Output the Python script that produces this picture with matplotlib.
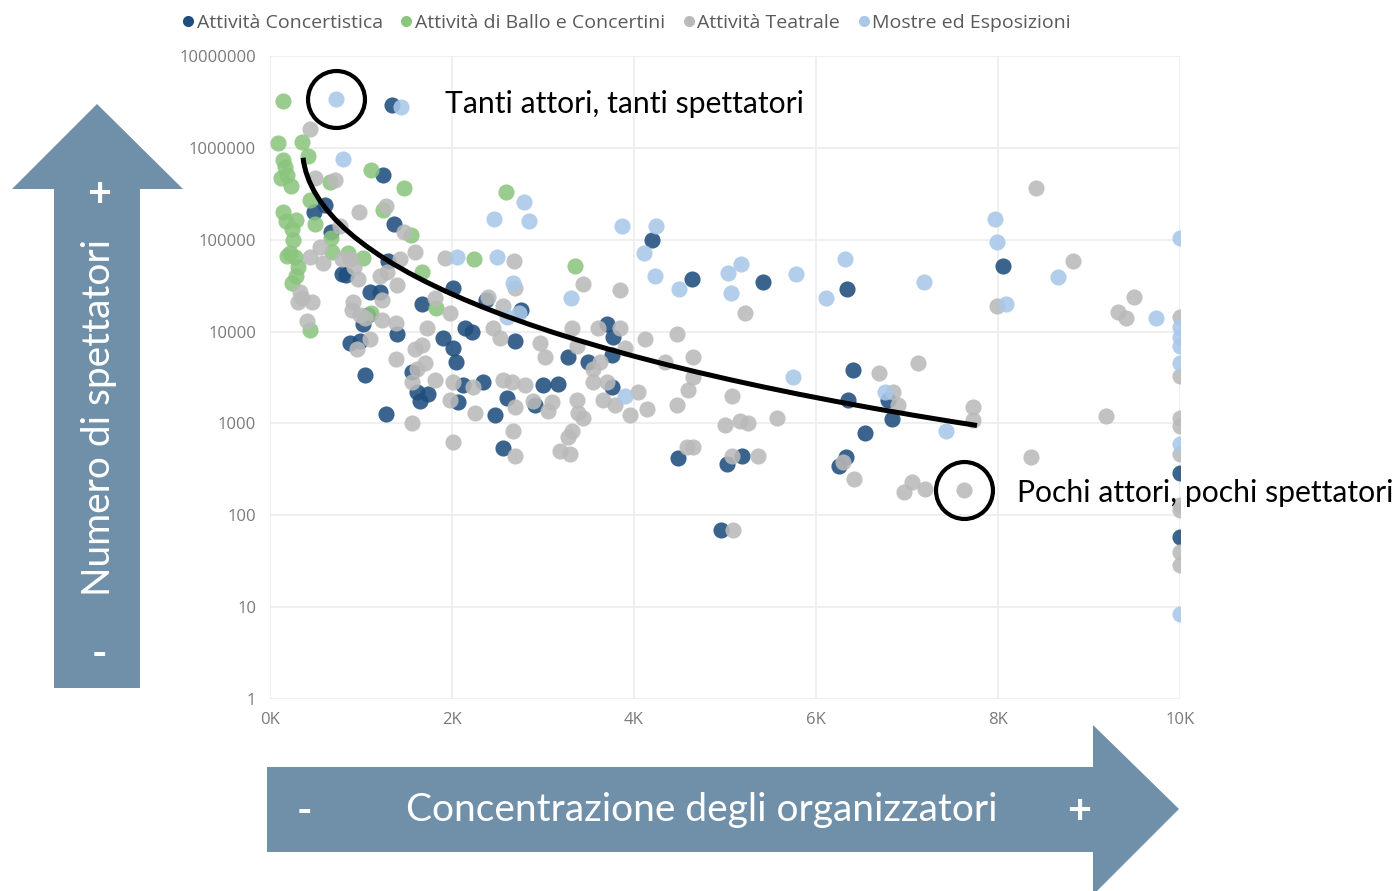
import matplotlib
matplotlib.use("Agg")
import matplotlib.pyplot as plt
from matplotlib.patches import Polygon, PathPatch
from matplotlib.path import Path
from matplotlib.lines import Line2D

# ---------------- data ----------------
categories = ["Attività Concertistica", "Attività di Ballo e Concertini",
              "Attività Teatrale", "Mostre ed Esposizioni"]
colors = ["#1f4e7e", "#8bc57e", "#bababa", "#a9c8e8"]

ballo_x = [143, 88, 352, 143, 418, 165, 187, 121, 231, 1110, 1473, 440, 143, 176, 242,
           286, 253, 495, 670, 1242, 1549, 220, 681, 857, 187, 275, 308, 242, 286, 1022,
           1670, 1824, 1110, 440, 2242, 2593, 3352, 659]
ballo_y = [3.2e6, 1.13e6, 1.16e6, 7.4e5, 8.2e5, 6.2e5, 5.1e5, 4.7e5, 3.8e5, 5.8e5, 3.7e5,
           2.7e5, 2.0e5, 1.6e5, 1.3e5, 1.65e5, 1.0e5, 1.5e5, 1.05e5, 2.1e5, 1.13e5, 7.2e4,
           7.4e4, 7.2e4, 6.7e4, 6.5e4, 5.0e4, 3.4e4, 4.0e4, 6.4e4, 4.4e4, 1.8e4, 1.6e4,
           1.05e4, 6.2e4, 3.3e5, 5.2e4, 4.3e5]

teatro_x = [440, 495, 714, 978, 1275, 1473, 769, 1593, 1923, 440, 582, 791, 879, 967, 1286,
            1396, 330, 352, 462, 308, 407, 912, 901, 989, 1044, 1231, 1231, 1099, 956, 1385,
            1385, 1725, 1813, 1978, 1593, 1670, 1703, 1615, 1560, 1813, 1978, 2011, 1560,
            2011, 2451, 2527, 2396, 2560, 2231, 2253, 2560, 2659, 2802, 2692, 2670, 2890,
            3055, 3099, 2967, 3022, 3319, 3374, 3374, 3385, 3440, 3319, 3275, 3187, 3297,
            2692, 3604, 3846, 3901, 3626, 3549, 3549, 3703, 3659, 3791, 3956, 4044, 4143,
            4121, 4341, 4473, 4648, 4593, 4473, 4582, 4648, 5220, 4648, 5077, 5000, 5165,
            5253, 5571, 5077, 5363, 5088, 6297, 6418, 6692, 7121, 6846, 6901, 7725, 7725,
            7055, 6967, 7198, 7626, 7989, 8418, 8824, 9319, 9495, 9407, 9187, 8363, 10000,
            10000, 10000, 10000, 10000, 10000, 10000, 10000, 10000, 2681, 2692, 3440, 3846,
            1429, 923, 1209, 549]
teatro_y = [1.6e6, 4.7e5, 4.5e5, 2.0e5, 2.3e5, 1.2e5, 1.4e5, 7.4e4, 6.4e4, 6.5e4, 5.6e4,
            6.1e4, 6.1e4, 3.7e4, 4.4e4, 3.2e4, 2.7e4, 2.3e4, 2.1e4, 2.1e4, 1.3e4, 2.1e4,
            1.7e4, 1.5e4, 1.4e4, 2.2e4, 1.35e4, 8.2e3, 6.4e3, 1.25e4, 5.0e3, 1.1e4, 2.3e4,
            1.6e4, 6.4e3, 7.2e3, 4.6e3, 3.9e3, 2.8e3, 3.0e3, 1.8e3, 2.8e3, 1.0e3, 6.2e2,
            1.1e4, 8.6e3, 2.4e4, 1.9e4, 2.5e3, 1.3e3, 3.0e3, 2.85e3, 2.65e3, 1.5e3, 8.2e2,
            1.75e3, 1.35e3, 1.7e3, 7.6e3, 5.3e3, 1.1e4, 6.9e3, 1.8e3, 1.3e3, 1.15e3, 8.2e2,
            7.2e2, 5.0e2, 4.7e2, 4.4e2, 1.1e4, 1.1e4, 6.7e3, 4.7e3, 3.9e3, 2.8e3, 2.8e3,
            1.8e3, 1.6e3, 1.25e3, 2.2e3, 1.45e3, 8.2e3, 4.7e3, 9.3e3, 5.3e3, 2.3e3, 1.6e3,
            5.6e2, 5.6e2, 1.6e4, 3.2e3, 2.0e3, 9.5e2, 1.05e3, 1.0e3, 1.15e3, 4.4e2, 4.4e2,
            70, 3.8e2, 2.5e2, 3.5e3, 4.5e3, 2.2e3, 1.6e3, 1.5e3, 1.1e3, 2.3e2, 1.8e2, 1.95e2,
            1.9e2, 1.9e4, 3.7e5, 5.9e4, 1.65e4, 2.35e4, 1.4e4, 1.2e3, 4.3e2, 1.45e4, 3.3e3,
            1.15e3, 9.3e2, 4.6e2, 1.15e2, 1.3e2, 40, 29, 5.8e4, 3.0e4, 3.3e4, 2.85e4, 6.1e4,
            5.0e4, 4.0e4, 8.4e4]

mostre_x = [725, 1440, 802, 2462, 2791, 2846, 2055, 2495, 2670, 2736, 2604, 3308, 3868,
            4242, 4110, 4231, 4495, 5033, 5176, 5066, 5780, 6319, 6110, 7187, 5747, 6758,
            7429, 3901, 7967, 7989, 8659, 8088, 9736, 10000, 10000, 10000, 10000, 10000,
            10000, 10000]
mostre_y = [3.4e6, 2.8e6, 7.6e5, 1.7e5, 2.6e5, 1.6e5, 6.5e4, 6.5e4, 3.4e4, 1.6e4, 1.45e4,
            2.3e4, 1.4e5, 1.4e5, 7.2e4, 4.0e4, 2.9e4, 4.3e4, 5.5e4, 2.65e4, 4.2e4, 6.2e4,
            2.3e4, 3.5e4, 3.2e3, 2.2e3, 8.2e2, 2.0e3, 1.7e5, 9.5e4, 3.9e4, 2.0e4, 1.4e4,
            1.05e5, 1.13e4, 8.8e3, 6.9e3, 4.6e3, 5.9e2, 8.4]

concerti_x = [1341, 1242, 484, 604, 670, 1363, 1297, 791, 835, 1099, 1209, 1670, 2011, 1022,
              1077, 1396, 879, 989, 1044, 1275, 1560, 1615, 1736, 1648, 1901, 2011, 2044,
              2143, 2220, 2121, 2341, 2066, 2473, 2560, 2692, 2758, 2374, 3000, 3165, 3275,
              3495, 3703, 3769, 3758, 3758, 4198, 4637, 5418, 4484, 5022, 5187, 4956, 6253,
              6330, 6341, 6407, 6352, 6791, 6835, 6538, 8055, 10000, 10000, 2604, 2912]
concerti_y = [2.9e6, 5.1e5, 2.0e5, 2.4e5, 1.2e5, 1.5e5, 5.8e4, 4.2e4, 4.1e4, 2.7e4, 2.7e4,
              2.0e4, 3.0e4, 1.2e4, 1.5e4, 9.3e3, 7.6e3, 7.8e3, 3.4e3, 1.28e3, 3.6e3, 2.2e3,
              2.1e3, 1.75e3, 8.6e3, 6.7e3, 4.7e3, 1.1e4, 9.8e3, 2.65e3, 2.85e3, 1.7e3, 1.25e3,
              535, 7.8e3, 1.7e4, 2.2e4, 2.6e3, 2.7e3, 5.3e3, 4.7e3, 1.2e4, 8.8e3, 5.6e3, 2.5e3,
              1.0e5, 3.7e4, 3.5e4, 4.2e2, 3.6e2, 4.4e2, 69, 3.4e2, 4.3e2, 2.9e4, 3.8e3, 1.8e3,
              1.8e3, 1.13e3, 7.8e2, 5.2e4, 2.9e2, 58, 1.9e3, 1.6e3]

# hand-drawn trend curve (cubic Bezier: start, two control points, end)
trend_x = [363, 495, 2747, 7769]
trend_y = [7.8e5, 6.1e4, 5.6e3, 9.5e2]

# highlighted points
highlight_x = [725, 7626]
highlight_y = [3.4e6, 1.9e2]

x_ticks = [0, 2000, 4000, 6000, 8000, 10000]
x_labels = ["0K", "2K", "4K", "6K", "8K", "10K"]
y_ticks = [1, 10, 100, 1000, 10000, 100000, 1000000, 10000000]
y_labels = ["1", "10", "100", "1000", "10000", "100000", "1000000", "10000000"]

# ---------------- figure ----------------
W, H = 1400, 891
fig = plt.figure(figsize=(W / 100, H / 100), dpi=100)
ax = fig.add_axes([270 / W, 1 - 699 / H, 910 / W, 643 / H])

ax.set_yscale("log")
ax.set_xlim(0, 10000)
ax.set_ylim(1, 1e7)

series = [(concerti_x, concerti_y), (ballo_x, ballo_y), (teatro_x, teatro_y), (mostre_x, mostre_y)]
draw_order = [2, 1, 3, 0]
for i in draw_order:
    xs, ys = series[i]
    ax.scatter(xs, ys, s=135, color=colors[i], alpha=0.88, linewidths=0, zorder=3 + i * 0.1)

trend_path = Path(list(zip(trend_x, trend_y)), [Path.MOVETO, Path.CURVE4, Path.CURVE4, Path.CURVE4])
ax.add_patch(PathPatch(trend_path, facecolor="none", edgecolor="black", lw=3.6, capstyle="butt", zorder=6))

ax.plot(highlight_x, highlight_y, linestyle="none", marker="o", markersize=41,
        markerfacecolor="none", markeredgecolor="black", markeredgewidth=3.0, zorder=7, clip_on=False)

ax.set_xticks(x_ticks)
ax.set_xticklabels(x_labels)
ax.set_yticks(y_ticks)
ax.set_yticklabels(y_labels)
ax.minorticks_off()
ax.grid(True, color="#ececec", lw=1.2)
ax.set_axisbelow(True)
for sp in ax.spines.values():
    sp.set_visible(False)
ax.tick_params(length=0, colors="#7a7a7a", labelsize=12)
ax.tick_params(axis="x", pad=9)
ax.tick_params(axis="y", pad=10)
for lab in ax.get_xticklabels() + ax.get_yticklabels():
    lab.set_fontfamily("Open Sans")

# annotations
ax.text((445 - 270) / 910, 1 - (104 - 56) / 643, "Tanti attori, tanti spettatori", transform=ax.transAxes,
        fontsize=21.7, family="Lato", color="black", va="center", ha="left", zorder=8)
ax.text((1017 - 270) / 910, 1 - (493 - 56) / 643, "Pochi attori, pochi spettatori", transform=ax.transAxes,
        fontsize=21.7, family="Lato", color="black", va="center", ha="left", zorder=8, clip_on=False)

# legend
handles = [Line2D([0], [0], marker="o", linestyle="none", markersize=8, markerfacecolor=c,
                  markeredgewidth=0) for c in colors]
fig.legend(handles, categories, loc="center left", bbox_to_anchor=(162 / W, 1 - 23 / H), ncol=4,
           frameon=False, handletextpad=0.0, columnspacing=0.75, handlelength=0.9,
           prop={"family": "Open Sans", "size": 14}, labelcolor="#5a5a5a")

# arrows
arrow_col = "#708fa8"
def fpoly(pts):
    return Polygon([(x / W, 1 - y / H) for x, y in pts], closed=True, transform=fig.transFigure,
                   facecolor=arrow_col, edgecolor="none", zorder=1)

fig.patches.append(fpoly([(54, 688), (140, 688), (140, 189), (183, 189), (97, 104), (12, 189), (54, 189)]))
fig.patches.append(fpoly([(267, 767), (1093, 767), (1093, 725), (1179, 809), (1093, 895), (1093, 852), (267, 852)]))

fig.text(99 / W, 1 - 418 / H, "Numero di spettatori", rotation=90, color="white", fontsize=28,
         family="Lato", ha="center", va="center")
fig.text(99 / W, 1 - 195 / H, "+", color="white", fontsize=30, family="Lato", fontweight="bold",
         ha="center", va="center")
fig.text(99 / W, 1 - 655 / H, "-", color="white", fontsize=30, family="Lato", fontweight="bold",
         ha="center", va="center")
fig.text(702 / W, 1 - 810 / H, "Concentrazione degli organizzatori", color="white", fontsize=28,
         family="Lato", ha="center", va="center")
fig.text(304 / W, 1 - 812 / H, "-", color="white", fontsize=30, family="Lato", fontweight="bold",
         ha="center", va="center")
fig.text(1079 / W, 1 - 812 / H, "+", color="white", fontsize=30, family="Lato", fontweight="bold",
         ha="center", va="center")

fig.savefig("out.png", dpi=100)
